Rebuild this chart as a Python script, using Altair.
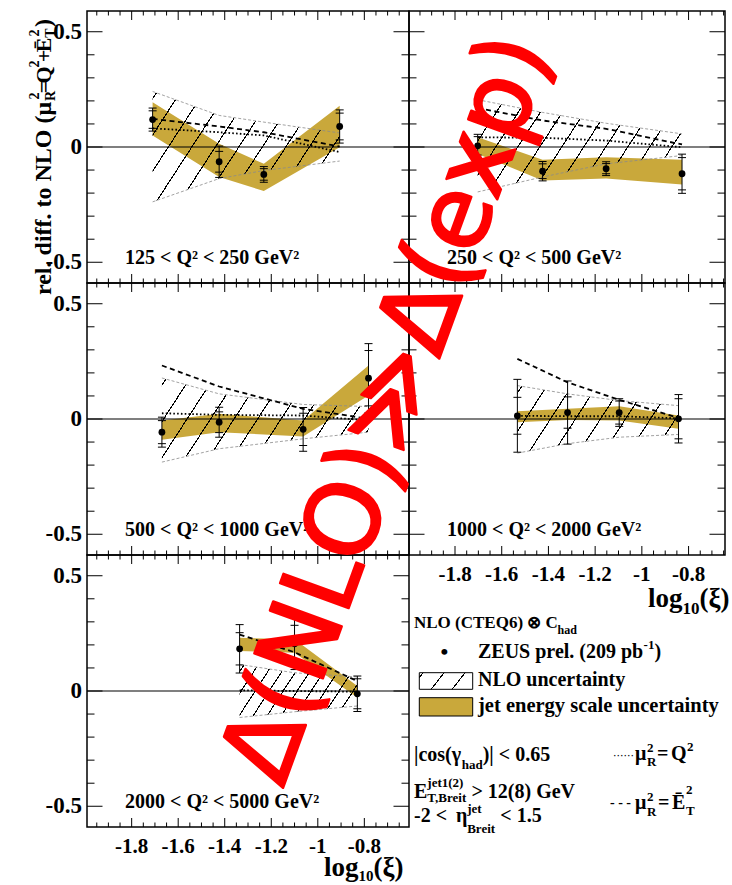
import math
import altair as alt
import pandas as pd

# ---------------- values ----------------
X_MAJOR = [-1.8, -1.6, -1.4, -1.2, -1.0, -0.8]
X_LABELS = ["-1.8", "-1.6", "-1.4", "-1.2", "-1", "-0.8"]
X_MINOR = [-1.95, -1.9, -1.85, -1.75, -1.7, -1.65, -1.55, -1.5, -1.45,
           -1.35, -1.3, -1.25, -1.15, -1.1, -1.05, -0.95, -0.9, -0.85,
           -0.75, -0.7, -0.65]
Y_MAJOR = [-0.5, 0.0, 0.5]
Y_LABELS = ["-0.5", "0", "0.5"]
Y_MINOR = [-0.4, -0.3, -0.2, -0.1, 0.1, 0.2, 0.3, 0.4]

Q2_LABELS = ["125 < Q² < 250 GeV²", "250 < Q² < 500 GeV²", "500 < Q² < 1000 GeV²",
             "1000 < Q² < 2000 GeV²", "2000 < Q² < 5000 GeV²"]

P1_X = [-1.710, -1.424, -1.232, -0.906]
P1_Y = [0.119, -0.064, -0.119, 0.089]
P1_ESTAT = [0.038, 0.045, 0.025, 0.058]
P1_ETOT = [0.050, 0.068, 0.034, 0.072]
P1_JES_LO = [0.050, -0.130, -0.191, -0.001]
P1_JES_HI = [0.194, 0.014, -0.073, 0.179]
P1_NLO_LO = [-0.238, -0.137, -0.102, -0.061]
P1_NLO_HI = [0.241, 0.137, 0.108, 0.061]
P1_MUQ = [0.081, 0.064, 0.050, -0.022]
P1_MUET = [0.122, 0.089, 0.064, 0.002]

P2_X = [-1.703, -1.425, -1.153, -0.828]
P2_Y = [0.005, -0.105, -0.094, -0.116]
P2_ESTAT = [0.040, 0.032, 0.022, 0.070]
P2_ETOT = [0.050, 0.042, 0.030, 0.085]
P2_JES_LO = [-0.030, -0.145, -0.137, -0.163]
P2_JES_HI = [0.042, -0.055, -0.044, -0.055]
P2_NLO_LO = [-0.195, -0.130, -0.073, -0.037]
P2_NLO_HI = [0.205, 0.150, 0.103, 0.057]
P2_MUQ = [0.042, 0.040, 0.028, -0.001]
P2_MUET = [0.169, 0.115, 0.079, 0.011]

P3_X = [-1.670, -1.424, -1.063, -0.782]
P3_Y = [-0.057, -0.014, -0.045, 0.177]
P3_ESTAT = [0.050, 0.045, 0.070, 0.120]
P3_ETOT = [0.065, 0.065, 0.095, 0.150]
P3_JES_LO = [-0.090, -0.057, -0.076, 0.102]
P3_JES_HI = [-0.006, 0.023, -0.006, 0.232]
P3_NLO_LO = [-0.187, -0.129, -0.086, -0.057]
P3_NLO_HI = [0.178, 0.109, 0.063, 0.054]
P3_MUQ = [0.025, 0.018, 0.015, -0.006]
P3_MUET = [0.232, 0.141, 0.044, 0.001]

P4_X = [-1.533, -1.318, -1.097, -0.843]
P4_Y = [0.014, 0.028, 0.028, 0.001]
P4_ESTAT = [0.080, 0.068, 0.050, 0.087]
P4_ETOT = [0.158, 0.137, 0.060, 0.105]
P4_JES_LO = [-0.014, -0.004, -0.007, -0.042]
P4_JES_HI = [0.034, 0.044, 0.055, 0.015]
P4_NLO_LO = [-0.148, -0.107, -0.079, -0.067]
P4_NLO_HI = [0.145, 0.109, 0.080, 0.058]
P4_MUQ = [0.014, 0.012, 0.012, 0.003]
P4_MUET = [0.261, 0.159, 0.083, 0.005]

P5_X = [-1.336, -1.100, -0.830]
P5_Y = [0.183, 0.205, -0.012]
P5_ESTAT = [0.070, 0.080, 0.065]
P5_ETOT = [0.105, 0.112, 0.077]
P5_JES_LO = [0.173, 0.166, -0.029]
P5_JES_HI = [0.231, 0.224, 0.022]
P5_NLO_LO = [-0.115, -0.090, -0.065]
P5_NLO_HI = [0.115, 0.079, 0.061]
P5_MUQ = [0.003, 0.000, -0.003]
P5_MUET = [0.245, 0.168, 0.043]

LEG_HEAD = ["NLO (CTEQ6) ⊗ C", "had"]
LEG_DATA = ["ZEUS prel. (209 pb", "-1", ")"]
LEG_NLO = "NLO uncertainty"
LEG_JES = "jet energy scale uncertainty"
OVERLAY_TEXT = "Δ(NLO)≫Δ(exp)"

# ---------------- style / layout ----------------
SERIF = "Liberation Serif"
GOLD = "#c9a83b"
GREY = "#8a8a8a"
H = 272
W_L, W_R = 322, 316
DOM_L = [-1.992, -0.608]
DOM_R = [-1.997, -0.644]
Y_DOM = [-0.59, 0.59]
ORIG = {1: (86, 10), 2: (408, 10), 3: (86, 282), 4: (408, 282), 5: (86, 554)}

TNR_B = {" ": 250, "(": 333, ")": 333, "+": 570, ",": 250, "-": 333, ".": 250, "<": 570,
         "=": 570, ">": 570, "|": 220, "A": 722, "B": 667, "C": 722, "E": 667, "G": 778,
         "L": 667, "N": 722, "O": 778, "Q": 778, "R": 722, "S": 556, "T": 667, "U": 722,
         "V": 722, "Z": 667, "a": 500, "b": 556, "c": 444, "d": 556, "e": 444, "f": 333,
         "g": 500, "h": 556, "i": 278, "j": 333, "l": 278, "n": 556, "o": 500, "p": 556,
         "r": 444, "s": 389, "t": 333, "u": 556, "x": 500, "y": 500, "μ": 556, "γ": 500,
         "η": 556, "ξ": 500, "Ē": 667, "⊗": 800}


def tw(s, size):
    return sum(TNR_B.get(ch, 500) for ch in s) / 1000.0 * size


def one(s):
    return alt.Chart(pd.DataFrame({"t": [s]}))


def txt(key, s, px, py, size, align="left", baseline="alphabetic", angle=0,
        font=SERIF, weight="bold", color="black", **extra):
    ox, oy = ORIG[key]
    props = dict(align=align, baseline=baseline, font=font, fontSize=size,
                 fontWeight=weight, color=color)
    if angle:
        props["angle"] = angle
    props.update(extra)
    return one(s).mark_text(**props).encode(text="t:N", x=alt.value(px - ox), y=alt.value(py - oy))


def hatch(W, Hh, theta=57.0, spacing=23.5, lw=1.1, phase=4.0):
    th = math.radians(theta)
    s, c = math.sin(th), math.cos(th)
    L = W * s + Hh * c
    k = L / (W * W * s * s + Hh * Hh * c * c)
    dx, dy = k * W * s, k * Hh * c
    p = spacing * s
    clear = "rgba(0,0,0,0)"
    stops = [alt.GradientStop(offset=0, color=clear)]
    t = phase
    while t < L:
        a = min(max((t - lw / 2) / L, 0.0), 1.0)
        b = min(max((t + lw / 2) / L, 0.0), 1.0)
        stops += [alt.GradientStop(offset=a, color=clear), alt.GradientStop(offset=a, color="black"),
                  alt.GradientStop(offset=b, color="black"), alt.GradientStop(offset=b, color=clear)]
        t += p
    stops.append(alt.GradientStop(offset=1, color=clear))
    return alt.LinearGradient(gradient="linear", stops=stops, x1=0, y1=0, x2=dx, y2=dy)


def panel(num, xs_, ys_, estat, etot, jlo, jhi, nlo, nhi, muq, muet, W, dom,
          xlabels, ylabels, hspace=23.5, extra=()):
    xs = alt.Scale(domain=dom, nice=False, zero=False)
    ys = alt.Scale(domain=Y_DOM, nice=False, zero=False)
    df = pd.DataFrame({
        "x": xs_, "y": ys_,
        "tlo": [a - b for a, b in zip(ys_, etot)], "thi": [a + b for a, b in zip(ys_, etot)],
        "slo": [a - b for a, b in zip(ys_, estat)], "shi": [a + b for a, b in zip(ys_, estat)],
        "jlo": jlo, "jhi": jhi, "nlo": nlo, "nhi": nhi, "muq": muq, "muet": muet,
    })

    def X(f="x"):
        return alt.X(f, type="quantitative", scale=xs, axis=None)

    def Y(f):
        return alt.Y(f, type="quantitative", scale=ys, axis=None)

    pxx = W / (dom[1] - dom[0])
    pxy = H / (Y_DOM[1] - Y_DOM[0])
    bw = (max(xs_) - min(xs_)) * pxx
    bh = (max(nhi) - min(nlo)) * pxy
    base = alt.Chart(df)
    zero = alt.Chart(pd.DataFrame({"z": [0.0]}))
    layers = [
        base.mark_area(color=GOLD, opacity=1).encode(x=X(), y=Y("jlo"), y2=alt.Y2("jhi")),
        base.mark_area(fill=hatch(bw, bh, spacing=hspace), opacity=1).encode(
            x=X(), y=Y("nlo"), y2=alt.Y2("nhi")),
        base.mark_line(color=GREY, strokeWidth=0.8, strokeDash=[3, 2]).encode(x=X(), y=Y("nhi")),
        base.mark_line(color=GREY, strokeWidth=0.8, strokeDash=[3, 2]).encode(x=X(), y=Y("nlo")),
        zero.mark_rule(color="black", strokeWidth=1.2).encode(y=Y("z")),
        base.mark_line(color="black", strokeWidth=1.8, strokeDash=[1.6, 2.2]).encode(x=X(), y=Y("muq")),
        base.mark_line(color="black", strokeWidth=1.8, strokeDash=[5, 3.5]).encode(x=X(), y=Y("muet")),
        base.mark_rule(color="black", strokeWidth=1).encode(x=X(), y=Y("tlo"), y2=alt.Y2("thi")),
    ]
    for f in ("tlo", "thi", "slo", "shi"):
        layers.append(base.mark_tick(orient="horizontal", size=8, thickness=1, color="black",
                                     opacity=1).encode(x=X(), y=Y(f)))
    layers.append(base.mark_circle(size=46, color="black", opacity=1).encode(x=X(), y=Y("y")))

    # inward frame ticks
    for vals, ln in ((X_MAJOR, 9), (X_MINOR, 4.5)):
        d = alt.Chart(pd.DataFrame({"v": vals}))
        layers.append(d.mark_rule(color="black", strokeWidth=1).encode(
            x=X("v"), y=alt.value(H), y2=alt.value(H - ln)))
        layers.append(d.mark_rule(color="black", strokeWidth=1).encode(
            x=X("v"), y=alt.value(0), y2=alt.value(ln)))
    for vals, ln in ((Y_MAJOR, 15.5), (Y_MINOR, 7.5)):
        d = alt.Chart(pd.DataFrame({"v": vals}))
        layers.append(d.mark_rule(color="black", strokeWidth=1).encode(
            y=Y("v"), x=alt.value(0), x2=alt.value(ln)))
        layers.append(d.mark_rule(color="black", strokeWidth=1).encode(
            y=Y("v"), x=alt.value(W), x2=alt.value(W - ln)))
    layers.append(one("f").mark_rect(fillOpacity=0, stroke="black", strokeWidth=1.5).encode(
        x=alt.value(0), x2=alt.value(W), y=alt.value(0), y2=alt.value(H)))

    # tick labels
    if xlabels:
        d = alt.Chart(pd.DataFrame({"v": X_MAJOR, "lab": X_LABELS}))
        layers.append(d.mark_text(align="center", baseline="alphabetic", font=SERIF,
                                  fontWeight="bold", fontSize=21, color="black").encode(
            x=X("v"), y=alt.value(H + 26), text="lab:N"))
    if ylabels:
        d = alt.Chart(pd.DataFrame({"v": Y_MAJOR, "lab": Y_LABELS}))
        layers.append(d.mark_text(align="right", baseline="middle", font=SERIF,
                                  fontWeight="bold", fontSize=23, color="black").encode(
            y=Y("v"), x=alt.value(-5), text="lab:N"))

    ox, oy = ORIG[num]
    layers.append(txt(num, Q2_LABELS[num - 1], ox + 38, oy + 253, 20))
    layers.extend(extra)
    return alt.layer(*layers).properties(width=W, height=H)


def log_title(key, x0, base_y, sub_drop=7, sub_size=17):
    a = txt(key, "log", x0, base_y, 27)
    x1 = x0 + tw("log", 27)
    b = txt(key, "10", x1, base_y + sub_drop, sub_size)
    x2 = x1 + tw("10", sub_size)
    c = txt(key, "(ξ)", x2, base_y, 27)
    return [a, b, c]


ytitle = [
    one("w").mark_rect(color="white").encode(x=alt.value(-86), x2=alt.value(-85),
                                              y=alt.value(-10), y2=alt.value(-9)),
    txt(1, "rel. diff. to NLO (μ", 50, 294, 24, angle=270),
    txt(1, "2", 38, 95, 14, align="center", angle=270),
    txt(1, "R", 54, 95, 14, align="center", angle=270),
    txt(1, "=", 50, 86, 22, align="center", angle=270),
    txt(1, "Q", 50, 74, 22, align="center", angle=270),
    txt(1, "2", 38, 63, 14, align="center", angle=270),
    txt(1, "+", 50, 55, 22, align="center", angle=270),
    txt(1, "Ē", 50, 44, 22, align="center", angle=270),
    txt(1, "2", 38, 32, 14, align="center", angle=270),
    txt(1, "T", 54, 32, 14, align="center", angle=270),
    txt(1, ")", 50, 22, 24, align="center", angle=270),
]

# ---------------- legend / cuts (drawn from panel 4) ----------------
K = 4
lx, ly = ORIG[K]
leg = []
leg.append(txt(K, LEG_HEAD[0], 413, 627, 17))
leg.append(txt(K, LEG_HEAD[1], 413 + tw(LEG_HEAD[0], 17), 633, 12))
leg.append(txt(K, "•", 443.3, 658, 22, align="center"))
leg.append(txt(K, LEG_DATA[0], 477, 657, 20))
xa = 477 + tw(LEG_DATA[0], 20)
leg.append(txt(K, LEG_DATA[1], xa, 648, 13))
leg.append(txt(K, LEG_DATA[2], xa + tw("-1", 13), 657, 20))
leg.append(one("h").mark_rect(fill=hatch(53.4, 16.6, theta=52, spacing=21, phase=3),
                              stroke="black", strokeWidth=1).encode(
    x=alt.value(418.3 - lx), x2=alt.value(471.7 - lx), y=alt.value(671.7 - ly), y2=alt.value(688.3 - ly)))
leg.append(txt(K, LEG_NLO, 477, 685, 20))
leg.append(one("g").mark_rect(fill=GOLD, stroke="black", strokeWidth=1).encode(
    x=alt.value(418.3 - lx), x2=alt.value(471.7 - lx), y=alt.value(696.7 - ly), y2=alt.value(715 - ly)))
leg.append(txt(K, LEG_JES, 477, 711, 20.5))

leg.append(txt(K, "|cos(γ", 413, 760, 20))
xc = 413 + tw("|cos(γ", 20)
leg.append(txt(K, "had", xc, 768, 13))
leg.append(txt(K, ")| < 0.65", xc + tw("had", 13), 760, 20))
leg.append(txt(K, "E", 413, 797, 20))
xe = 413 + tw("E", 20)
leg.append(txt(K, "jet1(2)", xe, 786, 13))
leg.append(txt(K, "T,Breit", xe, 801, 13))
leg.append(txt(K, "> 12(8) GeV", xe + tw("T,Breit", 13) + 4, 797, 20))
leg.append(txt(K, "-2 <", 413, 821, 20))
xh = 413 + tw("-2 < ", 20) + 4
leg.append(txt(K, "η", xh, 821, 20))
xj = xh + tw("η", 20)
leg.append(txt(K, "jet", xj, 812, 13))
leg.append(txt(K, "Breit", xj, 832, 13))
leg.append(txt(K, "< 1.5", xj + tw("Breit", 13) + 5, 821, 20))

leg.append(txt(K, "······", 612, 758, 11, font="DejaVu Sans", weight="normal"))
leg.append(txt(K, "μ", 634, 759, 20))
leg.append(txt(K, "2", 646, 751, 13))
leg.append(txt(K, "R", 646, 765, 13))
leg.append(txt(K, "=", 656, 759, 20))
leg.append(txt(K, "Q", 670, 759, 20))
leg.append(txt(K, "2", 686, 750, 13))
leg.append(txt(K, "- - -", 609, 806, 14))
leg.append(txt(K, "μ", 634, 808, 20))
leg.append(txt(K, "2", 646, 800, 13))
leg.append(txt(K, "R", 646, 815, 13))
leg.append(txt(K, "=", 657, 808, 20))
leg.append(txt(K, "Ē", 671, 808, 20))
leg.append(txt(K, "2", 685, 793, 13))
leg.append(txt(K, "T", 685, 814, 13))

overlay = [txt(5, OVERLAY_TEXT, 388, 408, 100, align="center", baseline="middle", angle=290,
               font="DejaVu Sans", weight="normal", color="#ff0000",
               stroke="#ff0000", strokeWidth=2.5, strokeJoin="round")]

P1c = panel(1, P1_X, P1_Y, P1_ESTAT, P1_ETOT, P1_JES_LO, P1_JES_HI, P1_NLO_LO, P1_NLO_HI,
            P1_MUQ, P1_MUET, W_L, DOM_L, False, True, extra=ytitle)
P2c = panel(2, P2_X, P2_Y, P2_ESTAT, P2_ETOT, P2_JES_LO, P2_JES_HI, P2_NLO_LO, P2_NLO_HI,
            P2_MUQ, P2_MUET, W_R, DOM_R, False, False, hspace=22)
P3c = panel(3, P3_X, P3_Y, P3_ESTAT, P3_ETOT, P3_JES_LO, P3_JES_HI, P3_NLO_LO, P3_NLO_HI,
            P3_MUQ, P3_MUET, W_L, DOM_L, False, True)
P4c = panel(4, P4_X, P4_Y, P4_ESTAT, P4_ETOT, P4_JES_LO, P4_JES_HI, P4_NLO_LO, P4_NLO_HI,
            P4_MUQ, P4_MUET, W_R, DOM_R, True, False, hspace=25,
            extra=log_title(4, 647, 606) + leg)
P5c = panel(5, P5_X, P5_Y, P5_ESTAT, P5_ETOT, P5_JES_LO, P5_JES_HI, P5_NLO_LO, P5_NLO_HI,
            P5_MUQ, P5_MUET, W_L, DOM_L, True, True, hspace=14,
            extra=log_title(5, 323, 875, sub_drop=5, sub_size=15) + overlay)

chart = alt.concat(P1c, P2c, P3c, P4c, P5c, columns=2, spacing=0, bounds="flush").properties(
    padding=0, background="white"
).configure_view(stroke="transparent")

chart.save("out.html", embed_options={"renderer": "svg", "actions": False})
